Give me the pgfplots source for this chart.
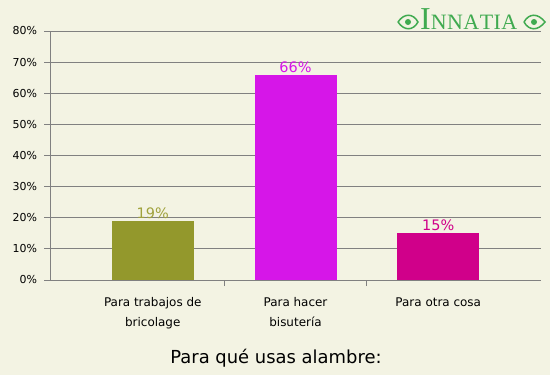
\documentclass[border=0pt]{standalone}
\usepackage{pgfplots}
\pgfplotsset{compat=1.18}
\usepackage{fontspec}
\setmainfont{DejaVu Sans}
\newfontfamily\logofont{Liberation Serif}
\definecolor{bg}{RGB}{243,243,227}
\definecolor{gridgray}{RGB}{128,128,128}
\definecolor{olive}{RGB}{147,152,44}
\definecolor{oliveL}{RGB}{160,162,60}
\definecolor{mag}{RGB}{214,22,232}
\definecolor{pinkb}{RGB}{208,0,138}
\definecolor{logogreen}{RGB}{64,170,80}
\begin{document}
\begin{tikzpicture}[x=1bp,y=1bp]
\fill[bg] (0,0) rectangle (550,375);
\path[use as bounding box] (0,0) rectangle (550,375);
\begin{axis}[
  at={(50bp,95bp)}, anchor=south west,
  scale only axis, width=491bp, height=249bp,
  xmin=-0.72, xmax=2.72, ymin=0, ymax=80,
  axis x line*=bottom, axis y line*=left,
  axis line style={draw=gridgray, line width=1bp},
  ytick={0,10,...,80},
  yticklabel={\pgfmathprintnumber{\tick}\%},
  yticklabel style={font=\fontsize{11}{12}\selectfont, xshift=-3.5bp},
  ymajorgrids, grid style={draw=gridgray, line width=1bp},
  tick align=outside, major tick length=6bp, minor tick length=6bp,
  tick style={draw=gridgray, line width=1bp},
  xtick={0,1,2},
  xticklabels={{Para trabajos de\\bricolage},{Para hacer\\bisutería},{Para otra cosa\vphantom{bd}}},
  xticklabel style={font=\fontsize{12}{20}\selectfont, align=center, yshift=-7.5bp},
  major x tick style={draw=none},
  minor xtick={0.5,1.5},
  /pgf/number format/assume math mode=true,
  ybar, bar width=82bp, bar shift=0pt,
  nodes near coords={\pgfmathprintnumber{\pgfplotspointmeta}\%},
  nodes near coords style={font=\fontsize{14.5}{16}\selectfont, anchor=base, inner sep=0pt, yshift=2.5bp},
  clip=false,
]
\addplot[fill=olive, draw=none, every node near coord/.append style={text=oliveL}] coordinates {(0,19)};
\addplot[fill=mag, draw=none, every node near coord/.append style={text=mag}] coordinates {(1,66)};
\addplot[fill=pinkb, draw=none, every node near coord/.append style={text=pinkb}] coordinates {(2,15)};
\end{axis}
\node at (276,17) {\fontsize{18}{20}\selectfont Para qué usas alambre:};
% logo
\node[anchor=base west, inner sep=0pt, text=logogreen] at (420,346) {\logofont\fontsize{32}{32}\selectfont I\fontsize{22}{22}\selectfont N\kern0.5bp N\kern0.5bp A\kern0.5bp T\kern0.5bp I\kern0.5bp A};
\draw[logogreen, line width=1.5bp] (398,353) .. controls (404,362) and (413,362) .. (418,353) .. controls (413,344) and (404,344) .. (398,353);
\fill[logogreen] (408,353) circle (3bp);
\draw[logogreen, line width=1.5bp] (524,353) .. controls (529,362) and (538,362) .. (545,353) .. controls (538,344) and (529,344) .. (524,353);
\fill[logogreen] (534,353) circle (3bp);
\end{tikzpicture}
\end{document}
